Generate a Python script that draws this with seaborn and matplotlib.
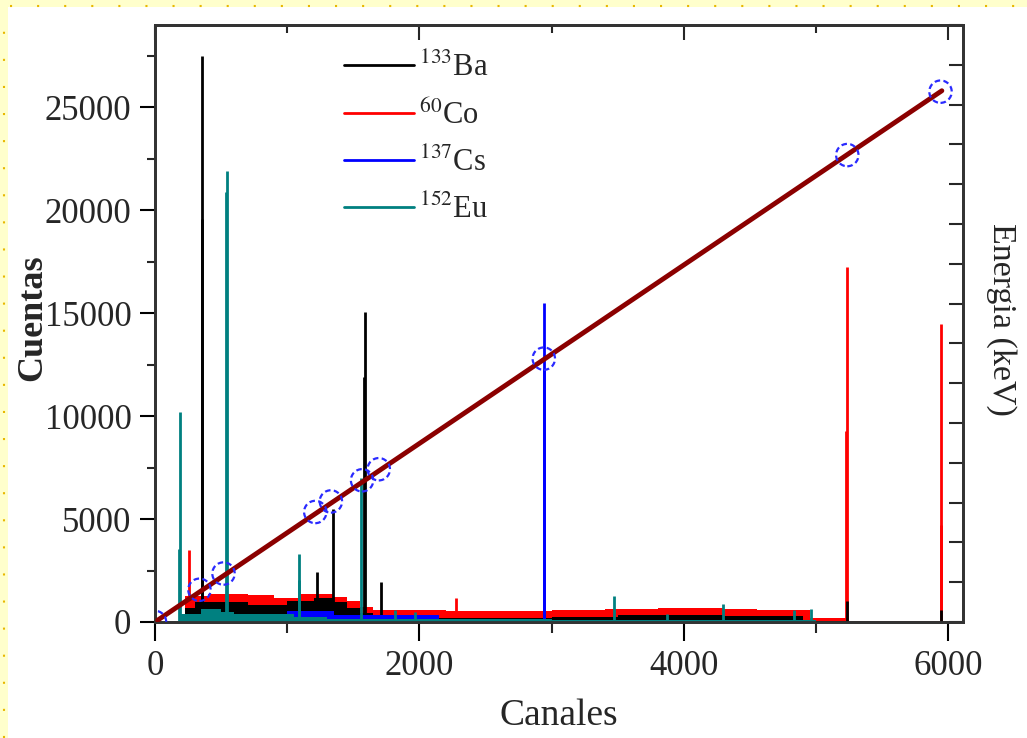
import numpy as np
import pandas as pd
import matplotlib
matplotlib.use("Agg")
import matplotlib.pyplot as plt
from matplotlib.patches import Rectangle
from matplotlib.lines import Line2D
import seaborn as sns

# ---------------- data ----------------
# Continuum of each spectrum as step levels: level[i] holds from edge[i] to edge[i+1]
co_edges = [0, 230, 400, 700, 900, 1100, 1350, 1450, 1550, 1650, 1800, 2200, 2700, 3000, 3400, 3800, 4300, 4550, 4950, 5230, 5940, 6100]
co_levels = [0, 1250, 1350, 1300, 1150, 1350, 1200, 1000, 750, 600, 560, 540, 520, 560, 620, 700, 650, 580, 180, 60, 0]

ba_edges = [0, 230, 300, 700, 1000, 1200, 1350, 1450, 1550, 1650, 2000, 3000, 3500, 4300, 4900, 5250, 6100]
ba_levels = [0, 700, 950, 850, 1000, 1150, 950, 700, 450, 280, 180, 220, 330, 280, 50, 0]

cs_edges = [0, 190, 1000, 1350, 2150, 2900, 6100]
cs_levels = [0, 300, 550, 330, 60, 0]

eu_edges = [0, 180, 350, 500, 600, 1050, 1300, 3000, 4900, 5000, 6100]
eu_levels = [0, 400, 650, 500, 400, 250, 150, 100, 80, 0]

# Photopeaks: channel and height (counts)
ba_peak_ch = [355, 359, 1224, 1347, 1581, 1585, 1708, 5230, 5945]
ba_peak_ct = [19600, 27500, 2440, 5500, 11900, 15050, 1960, 1000, 600]

co_peak_ch = [258, 2275, 5227, 5231, 5940, 5944]
co_peak_ct = [3500, 1150, 9300, 17230, 4700, 14500]

cs_peak_ch = [2940, 2942]
cs_peak_ct = [12300, 15490]

eu_peak_ch = [185, 190, 540, 543, 1088, 1092, 1560, 1815, 1965, 3470, 3870, 4295, 4830, 4960]
eu_peak_ct = [3540, 10200, 20900, 21900, 2040, 3300, 7000, 600, 500, 1260, 400, 870, 600, 650]

# Energy calibration: reference channels and gamma energies (keV)
cal_channel = [0, 336, 518, 1212, 1330, 1566, 1692, 2940, 5235, 5940]
cal_energy = [0.0, 81.0, 121.8, 276.4, 302.9, 356.0, 383.8, 661.7, 1173.2, 1332.5]
fit_channel = [20, 5950]
fit_energy = [4.5, 1334.8]

labels = [r"$^{133}$Ba", r"$^{60}$Co", r"$^{137}$Cs", r"$^{152}$Eu"]
colors = {"Ba": "#000000", "Co": "#ff0000", "Cs": "#0000ff", "Eu": "#008080"}

# ---------------- style ----------------
sns.set_theme(style="ticks")
plt.rcParams["font.family"] = ["Liberation Serif", "DejaVu Serif"]
plt.rcParams["mathtext.fontset"] = "stix"

fig = plt.figure(figsize=(10.27, 7.38), dpi=100)
fig.patch.set_facecolor("white")

# pale yellow page border with dotted rule (left and top)
fig.patches.append(Rectangle((0, 0), 8 / 1027, 1, transform=fig.transFigure,
                             facecolor="#ffffcc", edgecolor="none", zorder=0))
fig.patches.append(Rectangle((0, 1 - 7 / 738), 1, 7 / 738, transform=fig.transFigure,
                             facecolor="#ffffcc", edgecolor="none", zorder=0))
fig.lines.append(Line2D([4 / 1027, 4 / 1027], [0, 1 - 10 / 738], transform=fig.transFigure,
                        color="#e8b800", lw=1.5, ls=(0, (1, 12))))
fig.lines.append(Line2D([10 / 1027, 1], [1 - 6 / 738, 1 - 6 / 738], transform=fig.transFigure,
                        color="#e8b800", lw=1.5, ls=(0, (1, 12))))

ax = fig.add_axes([155 / 1027, 1 - 622 / 738, (963 - 155) / 1027, (622 - 25) / 738])
ax.set_facecolor("white")


def draw_continuum(edges, levels, color, z):
    ax.fill_between(edges[:-1] + [edges[-1]], levels + [levels[-1]], 0,
                    step="post", color=color, linewidth=0, zorder=z)


def draw_peaks(ch, ct, color, z):
    ax.vlines(np.asarray(ch), 0, np.asarray(ct), color=color, linewidth=2.0, zorder=z)


draw_continuum(co_edges, co_levels, colors["Co"], 2)
draw_continuum(ba_edges, ba_levels, colors["Ba"], 3)
draw_continuum(cs_edges, cs_levels, colors["Cs"], 4)
draw_continuum(eu_edges, eu_levels, colors["Eu"], 5)

draw_peaks(co_peak_ch, co_peak_ct, colors["Co"], 2)
draw_peaks(ba_peak_ch, ba_peak_ct, colors["Ba"], 3)
draw_peaks(cs_peak_ch, cs_peak_ct, colors["Cs"], 4)
draw_peaks(eu_peak_ch, eu_peak_ct, colors["Eu"], 5)

ax.set_xlim(0, 6110)
ax.set_ylim(0, 29000)

# legend handles
for lab, key in zip(labels, ["Ba", "Co", "Cs", "Eu"]):
    ax.plot([], [], color=colors[key], lw=2, label=lab)
leg = ax.legend(loc="upper left", bbox_to_anchor=(344 / 1027, 1 - 53 / 738),
                bbox_transform=fig.transFigure, frameon=False, fontsize=22,
                handlelength=2.3, handletextpad=0.15, labelspacing=0.55,
                borderpad=0, borderaxespad=0)

# ticks
ax.set_yticks([0, 5000, 10000, 15000, 20000, 25000])
ax.set_yticks(np.arange(2500, 29000, 5000), minor=True)
ax.set_xticks([0, 2000, 4000, 6000])
ax.set_xticks([1000, 3000, 5000], minor=True)
ax.tick_params(axis="both", which="major", labelsize=25, width=1.5, color="black")
ax.tick_params(axis="y", which="major", direction="out", length=11, left=True, pad=6)
ax.tick_params(axis="y", which="minor", direction="out", length=6, width=1.5, left=True)
ax.tick_params(axis="x", which="major", direction="out", length=14, bottom=True, top=False, pad=6)
ax.tick_params(axis="x", which="minor", direction="out", length=8, width=1.5, bottom=True, top=False)
for s in ax.spines.values():
    s.set_linewidth(2)
    s.set_color("#333333")

# top axis: same channel ticks, pointing inward, no labels
top = ax.secondary_xaxis("top")
top.set_xticks([0, 2000, 4000, 6000])
top.set_xticks([1000, 3000, 5000], minor=True)
top.tick_params(axis="x", which="major", direction="in", length=11, width=1.5, labeltop=False)
top.tick_params(axis="x", which="minor", direction="in", length=6, width=1.5)
top.spines["top"].set_linewidth(2)
top.spines["top"].set_color("#333333")

ax.set_xlabel("Canales", fontsize=27)
ax.xaxis.set_label_coords(0.5, -0.128)
ax.set_ylabel("Cuentas", fontsize=26, fontweight="bold")
ax.yaxis.set_label_coords(-0.131, 0.51)

# secondary axis: energy scale
ax2 = ax.twinx()
ax2.set_ylim(0, 1500)
ax2.set_yticks(np.arange(0, 1501, 100))
ax2.tick_params(axis="y", which="major", direction="in", length=10, width=1.5,
                labelright=False, right=True)
ax2.set_ylabel("Energia (keV)", fontsize=24.5, rotation=270, va="bottom")
ax2.yaxis.set_label_coords(1.029, 0.507)
for s in ax2.spines.values():
    s.set_linewidth(2)
    s.set_color("#333333")

fit_df = pd.DataFrame({"channel": fit_channel, "energy": fit_energy})
sns.lineplot(data=fit_df, x="channel", y="energy", ax=ax2, color="#8b0000",
             linewidth=3.5, zorder=10)
cal_df = pd.DataFrame({"channel": cal_channel, "energy": cal_energy})
sns.scatterplot(data=cal_df, x="channel", y="energy", ax=ax2, s=260,
                facecolors="none", edgecolor="#2a2aff", linewidth=1.6,
                linestyle=(0, (2.5, 1.5)), zorder=11)
ax2.set_xlim(0, 6110)
ax2.set_xlabel("")

fig.savefig("out.png", dpi=100, facecolor=fig.get_facecolor())
